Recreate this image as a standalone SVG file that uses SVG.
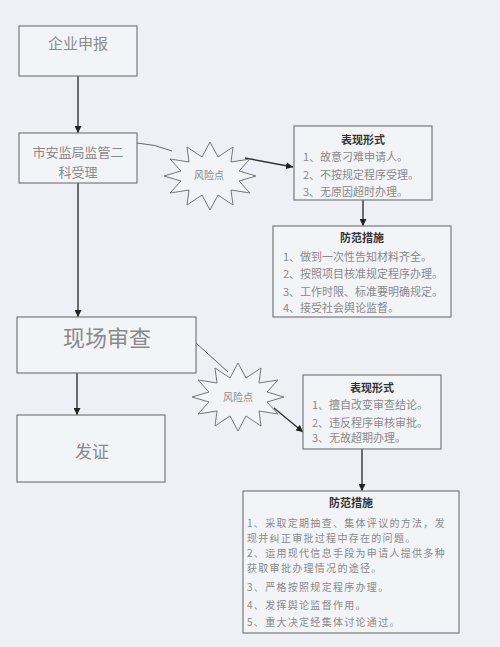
<svg xmlns="http://www.w3.org/2000/svg" xmlns:xlink="http://www.w3.org/1999/xlink" width="500" height="647" viewBox="0 0 500 647">
<style>
.box{fill:#f3f4f8;stroke:#7a7a7a;stroke-width:1.2}
.t{font-family:"Noto Sans CJK SC","Liberation Sans",sans-serif;fill:#8a8a8a}
.title{font-family:"Noto Sans CJK SC","Liberation Sans",sans-serif;fill:#333;font-weight:bold;font-size:11px}
.li{font-family:"Noto Sans CJK SC","Liberation Sans",sans-serif;fill:#8a8a8a;font-size:11px}
.sm{font-family:"Noto Sans CJK SC","Liberation Sans",sans-serif;fill:#8a8a8a;font-size:10px;letter-spacing:1.3px}
.con{fill:none;stroke:#333;stroke-width:1.4}
.thin{fill:none;stroke:#666;stroke-width:1}
.burst{fill:#f3f4f8;stroke:#777;stroke-width:1}
</style>
<defs>
<marker id="ah" viewBox="0 0 10 10" refX="10" refY="5" markerWidth="7" markerHeight="7" orient="auto" markerUnits="userSpaceOnUse">
<path d="M0,0 L10,5 L0,10 z" fill="#222"/>
</marker>
<polygon id="star" points="46,0 29,5 40,17 21,14 23,29 8,19 0,34 -8,19 -23,29 -21,14 -40,17 -29,5 -46,0 -29,-5 -40,-17 -21,-14 -23,-29 -8,-19 0,-34 8,-19 23,-29 21,-14 40,-17 29,-5"/>
</defs>
<rect width="500" height="647" fill="#eef0f5"/>

<g id="connectors">
<line class="con" x1="78" y1="76" x2="78" y2="133" marker-end="url(#ah)"/>
<line class="con" x1="78" y1="183" x2="78" y2="317" marker-end="url(#ah)"/>
<line class="con" x1="77" y1="373" x2="77" y2="415" marker-end="url(#ah)"/>
<path class="thin" d="M137,143 Q155,144 172,151"/>
<line class="con" x1="245" y1="158" x2="293" y2="167" marker-end="url(#ah)"/>
<line class="con" x1="363" y1="200" x2="363" y2="226" marker-end="url(#ah)"/>
<line class="thin" x1="196" y1="343" x2="228" y2="372"/>
<line class="con" x1="274" y1="408" x2="303" y2="432" marker-end="url(#ah)"/>
<line class="con" x1="362" y1="449" x2="362" y2="491" marker-end="url(#ah)"/>
</g>

<g id="n1">
<rect class="box" x="19" y="26" width="118" height="50"/>
<text class="t" x="78" y="49" font-size="15" text-anchor="middle">企业申报</text>
</g>

<g id="n2">
<rect class="box" x="19" y="133" width="118" height="50"/>
<text class="t" x="78" y="157" font-size="13" text-anchor="middle">市安监局监管二</text>
<text class="t" x="78" y="177" font-size="13" text-anchor="middle">科受理</text>
</g>

<g id="n3">
<rect class="box" x="17" y="317" width="179" height="56"/>
<text class="t" x="107" y="346" font-size="22" text-anchor="middle">现场审查</text>
</g>

<g id="n4">
<rect class="box" x="17" y="415" width="148" height="67"/>
<text class="t" x="92" y="458" font-size="17" text-anchor="middle">发证</text>
</g>

<g id="risk1">
<use xlink:href="#star" href="#star" class="burst" x="210" y="176"/>
<text class="t" x="209" y="179" font-size="10" text-anchor="middle">风险点</text>
</g>

<g id="risk2">
<use xlink:href="#star" href="#star" class="burst" x="238" y="397"/>
<text class="t" x="238" y="401" font-size="10" text-anchor="middle">风险点</text>
</g>

<g id="n5">
<rect class="box" x="294" y="126" width="138" height="74"/>
<text class="title" x="363" y="144" text-anchor="middle">表现形式</text>
<text class="li" x="303" y="161">1、故意刁难申请人。</text>
<text class="li" x="303" y="179">2、不按规定程序受理。</text>
<text class="li" x="303" y="196">3、无原因超时办理。</text>
</g>

<g id="n6">
<rect class="box" x="273" y="226" width="178" height="91"/>
<text class="title" x="362" y="242" text-anchor="middle">防范措施</text>
<text class="li" x="283" y="261">1、做到一次性告知材料齐全。</text>
<text class="li" x="283" y="278">2、按照项目核准规定程序办理。</text>
<text class="li" x="283" y="296">3、工作时限、标准要明确规定。</text>
<text class="li" x="283" y="312">4、接受社会舆论监督。</text>
</g>

<g id="n7">
<rect class="box" x="303" y="375" width="138" height="74"/>
<text class="title" x="372" y="392" text-anchor="middle">表现形式</text>
<text class="li" x="312" y="409">1、擅自改变审查结论。</text>
<text class="li" x="312" y="427">2、违反程序审核审批。</text>
<text class="li" x="312" y="442">3、无故超期办理。</text>
</g>

<g id="n8">
<rect class="box" x="243" y="491" width="216" height="142"/>
<text class="title" x="351" y="507" text-anchor="middle">防范措施</text>
<text class="sm" x="247" y="527">1、采取定期抽查、集体评议的方法，发</text>
<text class="sm" x="247" y="542">现并纠正审批过程中存在的问题。</text>
<text class="sm" x="247" y="557">2、运用现代信息手段为申请人提供多种</text>
<text class="sm" x="247" y="572">获取审批办理情况的途径。</text>
<text class="sm" x="247" y="591">3、严格按照规定程序办理。</text>
<text class="sm" x="247" y="609">4、发挥舆论监督作用。</text>
<text class="sm" x="247" y="626">5、重大决定经集体讨论通过。</text>
</g>
</svg>
